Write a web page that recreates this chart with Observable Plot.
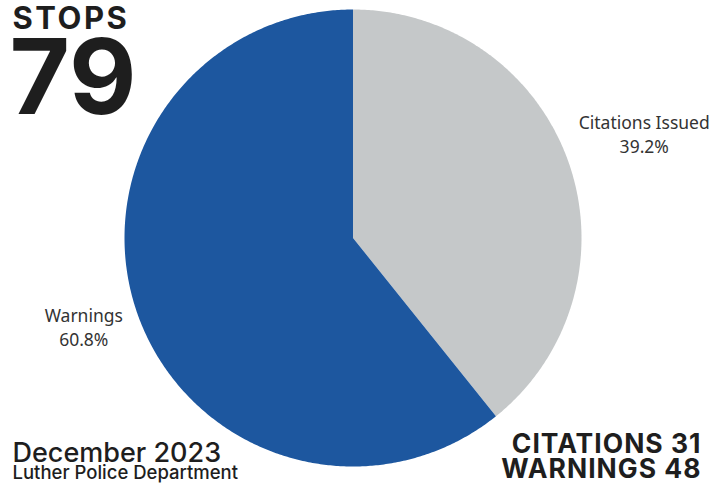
<!DOCTYPE html>
<html>
<head>
<meta charset="utf-8">
<script src="https://cdn.jsdelivr.net/npm/d3@7"></script>
<script src="https://cdn.jsdelivr.net/npm/@observablehq/plot@0.6"></script>
<style>
  html, body { margin: 0; padding: 0; background: #fff; }
  #chart { width: 723px; height: 489px; }
</style>
</head>
<body>
<div id="chart"></div>
<script>
// ---- data ----
const categories = ["Citations Issued", "Warnings"];
const counts = [31, 48];
const colors = ["#c5c8c9", "#1d579f"];
const totalLabel = "STOPS";
const titleText = "December 2023";
const subtitleText = "Luther Police Department";
const summaryLines = ["CITATIONS 31", "WARNINGS 48"];

// ---- derived ----
const total = d3.sum(counts);
const rows = categories.map((c, i) => ({category: c, value: counts[i]}));
const arcs = d3.pie().sort(null).value(d => d.value)(rows);

// polygon outline of each slice (unit circle, angle clockwise from 12 o'clock)
const slicePts = [];
for (const a of arcs) {
  slicePts.push({category: a.data.category, x: 0, y: 0});
  const n = Math.max(2, Math.ceil((a.endAngle - a.startAngle) / (Math.PI / 360)));
  for (let k = 0; k <= n; k++) {
    const t = a.startAngle + (a.endAngle - a.startAngle) * k / n;
    slicePts.push({category: a.data.category, x: Math.sin(t), y: Math.cos(t)});
  }
  slicePts.push({category: a.data.category, x: 0, y: 0});
}

const labelR = 1.3;
const labels = arcs.map(a => {
  const m = (a.startAngle + a.endAngle) / 2;
  return {
    category: a.data.category,
    text: `${a.data.category}\n${(a.data.value / total * 100).toFixed(1)}%`,
    x: labelR * Math.sin(m),
    y: labelR * Math.cos(m)
  };
});

const head = "Inter, 'Noto Sans', sans-serif";
const labelStyle = {x: "x", y: "y", text: "text", fontSize: 17.5, fill: "#333", lineHeight: 1.38, textAnchor: "middle"};
const chart = Plot.plot({
  width: 723,
  height: 489,
  margin: 0,
  style: {background: "#fff", fontFamily: "'Noto Sans', sans-serif", overflow: "visible"},
  x: {domain: [-1, 1], range: [124, 581], axis: null},
  y: {domain: [-1, 1], range: [466, 9], axis: null},
  color: {domain: categories, range: colors},
  marks: [
    Plot.line(slicePts, {x: "x", y: "y", z: "category", fill: "category", stroke: null}),
    Plot.text(labels, {...labelStyle, filter: d => d.category === categories[0], dx: 11, dy: -6}),
    Plot.text(labels, {...labelStyle, filter: d => d.category === categories[1], dx: 11, dy: -10}),
    Plot.text([totalLabel], {
      frameAnchor: "top-left", dx: 12, dy: 6, lineAnchor: "top", textAnchor: "start",
      fontSize: 31, fontWeight: 700, fill: "#1e1e1e", fontFamily: head,
      className: "ls-stops"
    }),
    Plot.text([String(total)], {
      frameAnchor: "top-left", dx: 9, dy: 40, lineAnchor: "top", textAnchor: "start",
      fontSize: 104, fontWeight: 700, fill: "#1e1e1e", fontFamily: head
    }),
    Plot.text([titleText], {
      frameAnchor: "top-left", dx: 12, dy: 442, lineAnchor: "top", textAnchor: "start",
      fontSize: 27, fontWeight: 500, fill: "#1e1e1e", fontFamily: head
    }),
    Plot.text([subtitleText], {
      frameAnchor: "top-left", dx: 12, dy: 465, lineAnchor: "top", textAnchor: "start",
      fontSize: 18.5, fontWeight: 500, fill: "#1e1e1e", fontFamily: head
    }),
    Plot.text([summaryLines.join("\n")], {
      frameAnchor: "top-right", dx: -22, dy: 435, lineAnchor: "top", textAnchor: "end",
      fontSize: 26.5, fontWeight: 700, fill: "#1e1e1e", lineHeight: 0.93, fontFamily: head,
      className: "ls-summary"
    })
  ]
});
d3.select(chart).selectAll(".ls-stops text").attr("letter-spacing", "2.5px");
d3.select(chart).selectAll(".ls-summary text").attr("letter-spacing", "1px");
document.getElementById("chart").appendChild(chart);
</script>
</body>
</html>
